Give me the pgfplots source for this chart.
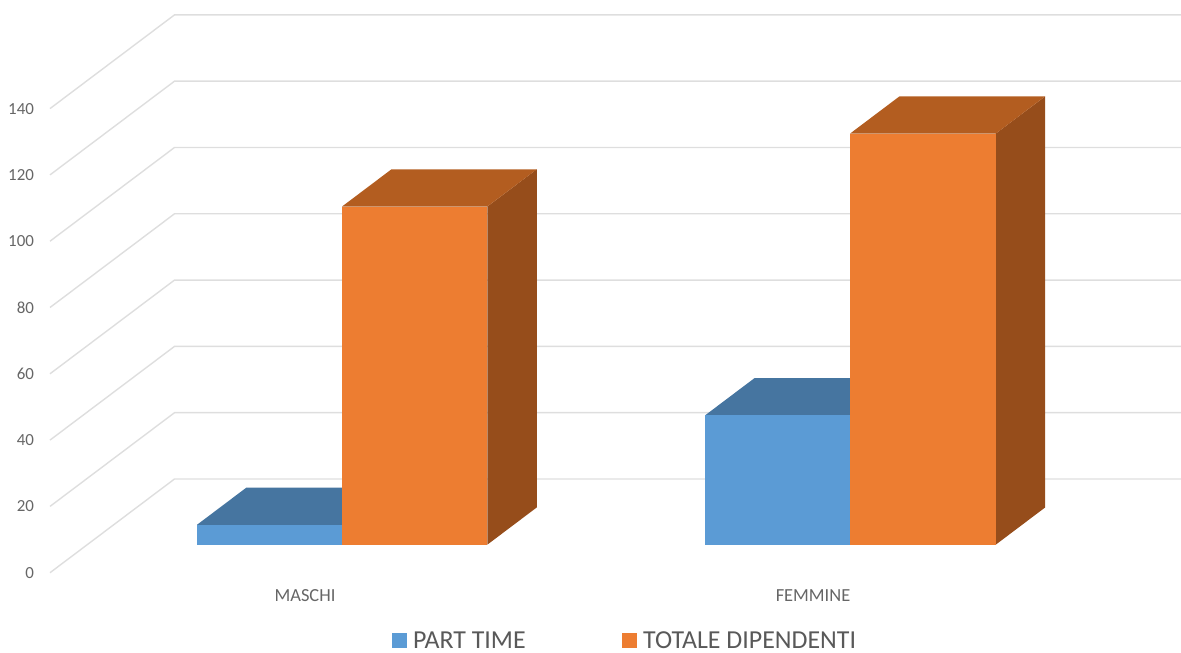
\documentclass[border=0pt]{standalone}
\usepackage{pgfplots}
\usepackage{fontspec}
\setmainfont{Carlito}
\pgfplotsset{compat=1.18}

\definecolor{gridgray}{HTML}{DEDEDE}
\definecolor{labelgray}{HTML}{666666}
\definecolor{legendgray}{HTML}{595959}
\definecolor{blueFront}{HTML}{5B9BD5}
\definecolor{blueTop}{HTML}{4675A0}
\definecolor{blueSide}{HTML}{3A6790}
\definecolor{orangeFront}{HTML}{ED7D31}
\definecolor{orangeTop}{HTML}{B35D20}
\definecolor{orangeSide}{HTML}{964D1B}

% floor level of the bars and depth of the 3D extrusion, in axis units
\newcommand{\barbase}{8.45}
\newcommand{\depthx}{49.5}
\newcommand{\depthy}{11.25}

% one gridline: from the front edge of the side wall, along the wall, then across the back
\newcommand{\gridline}[1]{%
  \pgfmathsetmacro{\gb}{#1+28.27}%
  \addplot[gridgray, line width=1.4bp, forget plot] coordinates {(50,#1) (174.5,\gb) (1181,\gb)};
}

% one extruded bar: #1 left, #2 right, #3 value, #4 front, #5 top, #6 side colours
\newcommand{\threedbar}[6]{%
  \pgfmathsetmacro{\yt}{\barbase+#3}%
  \pgfmathsetmacro{\ytb}{\yt+\depthy}%
  \pgfmathsetmacro{\ybb}{\barbase+\depthy}%
  \pgfmathsetmacro{\xlb}{#1+\depthx}%
  \pgfmathsetmacro{\xrb}{#2+\depthx}%
  \addplot[fill=#6, draw=none, forget plot] coordinates {(#2,\barbase) (\xrb,\ybb) (\xrb,\ytb) (#2,\yt)} --cycle;
  \addplot[fill=#5, draw=none, forget plot] coordinates {(#1,\yt) (\xlb,\ytb) (\xrb,\ytb) (#2,\yt)} --cycle;
  \addplot[fill=#4, draw=none, forget plot] coordinates {(#1,\barbase) (#2,\barbase) (#2,\yt) (#1,\yt)} --cycle;
}

\begin{document}
\begin{tikzpicture}[x=1bp,y=1bp]
\begin{axis}[
  scale only axis,
  width=1181bp, height=653bp,
  at={(0,0)}, anchor=south west,
  xmin=0, xmax=1181,
  ymin=-24.22, ymax=172.76,
  axis line style={draw=none},
  tick style={draw=none},
  ytick={0,20,...,140},
  xtick={305,813},
  xticklabels={MASCHI,FEMMINE},
  /pgf/number format/assume math mode=true,
  yticklabel style={font=\fontsize{17}{18}\selectfont, text=labelgray, anchor=east, xshift=37.5bp},
  xticklabel style={font=\fontsize{18.5}{20}\selectfont, text=labelgray, anchor=center, yshift=63bp-0.5\baselineskip},
  legend columns=2,
  legend cell align=left,
  legend style={
    draw=none, fill=none,
    at={(391.7bp,12.5bp)}, anchor=west,
    font=\fontsize{26}{28}\selectfont, text=legendgray,
    inner sep=0pt, outer sep=0pt,
    /tikz/every even column/.append style={column sep=0bp},
    /tikz/every odd column/.append style={column sep=0bp},
  },
  legend image code/.code={\fill[#1] (0bp,-7bp) rectangle (14.5bp,7bp); \path (19bp,0bp);},
]
\gridline{0}
\gridline{20}
\gridline{40}
\gridline{60}
\gridline{80}
\gridline{100}
\gridline{120}
\gridline{140}

\threedbar{197}{342}{6}{blueFront}{blueTop}{blueSide}
\threedbar{342}{487.3}{102}{orangeFront}{orangeTop}{orangeSide}
\threedbar{705}{850}{39}{blueFront}{blueTop}{blueSide}
\threedbar{850}{995.7}{124}{orangeFront}{orangeTop}{orangeSide}

\addlegendimage{blueFront}
\addlegendentry{PART TIME\rule{94bp}{0pt}}
\addlegendimage{orangeFront}
\addlegendentry{TOTALE DIPENDENTI}
\end{axis}
\end{tikzpicture}
\end{document}
